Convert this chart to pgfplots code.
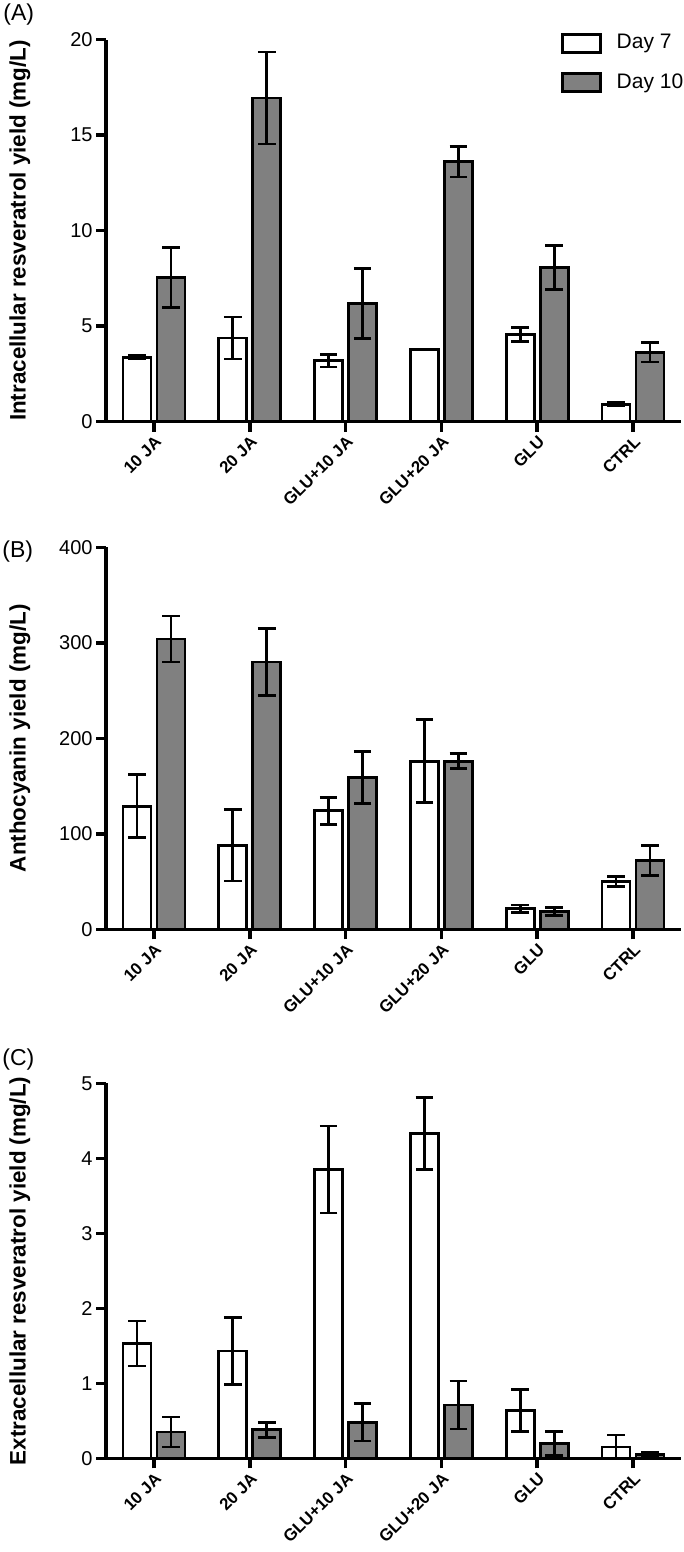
\documentclass[border=0pt]{standalone}
\usepackage{pgfplots}
\pgfplotsset{compat=1.18}
\usepackage{pgfplotstable}
\usepackage{fontspec}
\setmainfont{Liberation Sans}

\pgfplotstableread{
x d7 e7 d10 e10
0 3.36 0.08 7.55 1.57
1 4.37 1.10 16.94 2.41
2 3.18 0.33 6.19 1.83
3 3.76 0.02 13.60 0.80
4 4.56 0.37 8.06 1.15
5 0.91 0.08 3.62 0.50
}\tableA
\pgfplotstableread{
x d7 e7 d10 e10
0 129.0 33.0 304.0 24.0
1 88.0 37.5 280.0 35.0
2 124.0 14.0 159.0 27.0
3 176.0 43.5 176.0 8.0
4 21.6 3.9 18.8 4.4
5 50.3 5.2 72.3 15.7
}\tableB
\pgfplotstableread{
x d7 e7 d10 e10
0 1.53 0.30 0.35 0.20
1 1.43 0.45 0.38 0.10
2 3.85 0.58 0.48 0.25
3 4.33 0.48 0.71 0.32
4 0.64 0.28 0.20 0.16
5 0.15 0.16 0.05 0.03
}\tableC

\pgfplotsset{
  panel/.style={
    scale only axis,
    width=287.5pt,
    xmin=-0.5, xmax=5.5, ymin=0,
    axis x line*=bottom, axis y line*=left,
    axis line style={-, line width=1.8pt, black},
    tick style={line width=1.8pt, black},
    major tick length=5pt,
    tick align=outside,
    xtick={0,1,2,3,4,5},
    xticklabels={10 JA, 20 JA, GLU+10 JA, GLU+20 JA, GLU, CTRL},
    xticklabel style={rotate=45, anchor=north east, font=\bfseries\fontsize{8.4}{9}\selectfont, inner sep=1pt},
    yticklabel style={font=\fontsize{10}{12}\selectfont, inner sep=1.5pt},
    /pgf/number format/assume math mode=true,
    ylabel style={at={(axis description cs:-0.1496,0.5)}, anchor=center, font=\bfseries\fontsize{11.2}{13}\selectfont},
    ybar=3pt, bar width=14pt,
    clip=false,
    legend image code/.code={\draw[#1] (0pt,-4.5pt) rectangle (19pt,4.5pt);},
  },
  d7/.style={draw=black, fill=white, line width=1.4pt,
    error bars/.cd, y dir=both, y explicit,
    error bar style={line width=1.4pt, black},
    error mark options={rotate=90, mark size=4.4pt, line width=1.4pt, black}},
  d10/.style={draw=black, fill=gray, line width=1.4pt,
    error bars/.cd, y dir=both, y explicit,
    error bar style={line width=1.4pt, black},
    error mark options={rotate=90, mark size=4.4pt, line width=1.4pt, black}},
}

\begin{document}
\begin{tikzpicture}
\path[use as bounding box] (0pt,0pt) rectangle (342pt,-776pt);

% Panel A
\begin{axis}[panel, height=191pt, at={(53pt,-210.75pt)}, anchor=south west,
  ymax=20, ytick={0,5,10,15,20},
  ylabel={Intracellular resveratrol yield (mg/L)},
  legend style={at={(rel axis cs:0.78,1.035)}, anchor=north west, draw=none, fill=none,
    font=\fontsize{10.5}{12}\selectfont, row sep=7pt, column sep=5.5pt},
  legend cell align=left]
\addplot[d7] table[x=x, y=d7, y error=e7] {\tableA};
\addplot[d10] table[x=x, y=d10, y error=e10] {\tableA};
\legend{Day 7, Day 10}
\end{axis}

% Panel B
\begin{axis}[panel, height=191pt, at={(53pt,-464.65pt)}, anchor=south west,
  ymax=400, ytick={0,100,200,300,400},
  ylabel={Anthocyanin yield (mg/L)}]
\addplot[d7] table[x=x, y=d7, y error=e7] {\tableB};
\addplot[d10] table[x=x, y=d10, y error=e10] {\tableB};
\end{axis}

% Panel C
\begin{axis}[panel, height=187.5pt, at={(53pt,-729.15pt)}, anchor=south west,
  ymax=5, ytick={0,1,2,3,4,5},
  ylabel={Extracellular resveratrol yield (mg/L)}]
\addplot[d7] table[x=x, y=d7, y error=e7] {\tableC};
\addplot[d10] table[x=x, y=d10, y error=e10] {\tableC};
\end{axis}

\node[anchor=north west, inner sep=0pt, font=\fontsize{11.5}{13}\selectfont] at (1.5pt,-1.5pt) {(A)};
\node[anchor=north west, inner sep=0pt, font=\fontsize{11.5}{13}\selectfont] at (1pt,-270pt) {(B)};
\node[anchor=north west, inner sep=0pt, font=\fontsize{11.5}{13}\selectfont] at (1pt,-524pt) {(C)};
\end{tikzpicture}
\end{document}
